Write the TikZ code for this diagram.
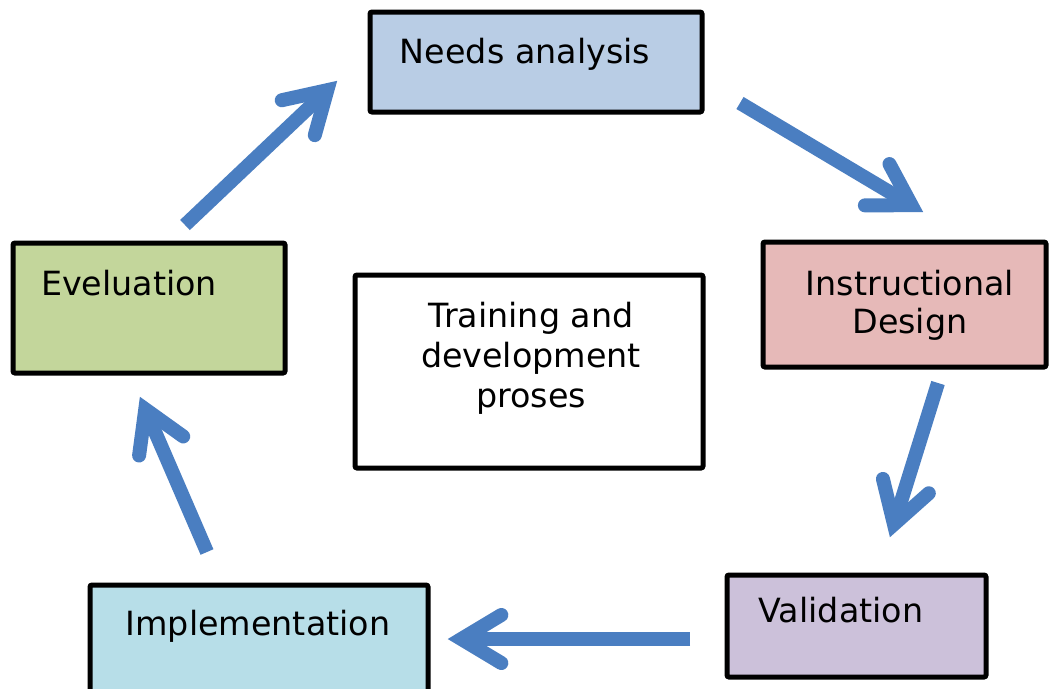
\documentclass[tikz,border=0pt]{standalone}
\usepackage{fontspec}
\setmainfont{DejaVu Sans}
\usetikzlibrary{calc}
\definecolor{arrowblue}{HTML}{4A7EC1}
\definecolor{fneeds}{HTML}{B9CDE5}
\definecolor{finstr}{HTML}{E6B9B8}
\definecolor{fvalid}{HTML}{CCC1DA}
\definecolor{fimpl}{HTML}{B7DEE8}
\definecolor{feval}{HTML}{C3D69B}
\tikzset{
  stagebox/.style={draw=black, line width=3.75pt, rounded corners=1.5pt, inner sep=0pt},
  stagetext/.style={inner sep=0pt, text=black, font=\fontsize{25}{29}\selectfont, align=center},
  shaftline/.style={draw=arrowblue, line width=10.5pt, line cap=butt},
  headline/.style={draw=arrowblue, line width=10.5pt, line cap=round, line join=miter},
}
\newcommand\cyclearrow[2]{%
  \coordinate (#2v) at ($(#2)!10pt!(#1)$);
  \coordinate (#2a) at ($(#2v)!35pt!31:(#1)$);
  \coordinate (#2b) at ($(#2v)!35pt!-31:(#1)$);
  \draw[shaftline] (#1) -- (#2v);
  \draw[headline] (#2a) -- (#2v) -- (#2b);
}
\begin{document}
\begin{tikzpicture}[x=0.75pt, y=-0.75pt]
\clip (0,0) rectangle (1050,689);
\fill[white] (0,0) rectangle (1050,689);
% boxes
\draw[stagebox, fill=fneeds] (370,12) rectangle (702,112);
\draw[stagebox, fill=finstr] (763,242) rectangle (1046,367);
\draw[stagebox, fill=fvalid] (727,575) rectangle (986,677);
\draw[stagebox, fill=fimpl] (90,585) rectangle (428,700);
\draw[stagebox, fill=feval] (13,243) rectangle (285,373);
\draw[stagebox, fill=white] (355,275) rectangle (703,468);
% texts
\node[stagetext, anchor=base] (tneeds) at (525,63) {Needs analysis};
\node[stagetext, anchor=base, font=\fontsize{25}{28.5}\selectfont] (tinstr) at (910,333) {Instructional\\Design};
\node[stagetext, anchor=base] (tvalid) at (841,622) {Validation};
\node[stagetext, anchor=base] (timpl) at (258,635) {Implementation};
\node[stagetext, anchor=base] (teval) at (129,295) {Eveluation};
\node[stagetext, anchor=base, font=\fontsize{25}{30}\selectfont] (tcenter) at (531,407) {Training and\\development\\proses};
% arrow end points
\coordinate (s1) at (185,225);   \coordinate (e1) at (337,81);
\coordinate (s2) at (740,103);   \coordinate (e2) at (923,212);
\coordinate (s3) at (938,383);   \coordinate (e3) at (890,537);
\coordinate (s4) at (690,639);   \coordinate (e4) at (448,639);
\coordinate (s5) at (207,552);   \coordinate (e5) at (140,397);
\cyclearrow{s1}{e1}
\cyclearrow{s2}{e2}
\cyclearrow{s3}{e3}
\cyclearrow{s4}{e4}
\cyclearrow{s5}{e5}
\end{tikzpicture}
\end{document}
